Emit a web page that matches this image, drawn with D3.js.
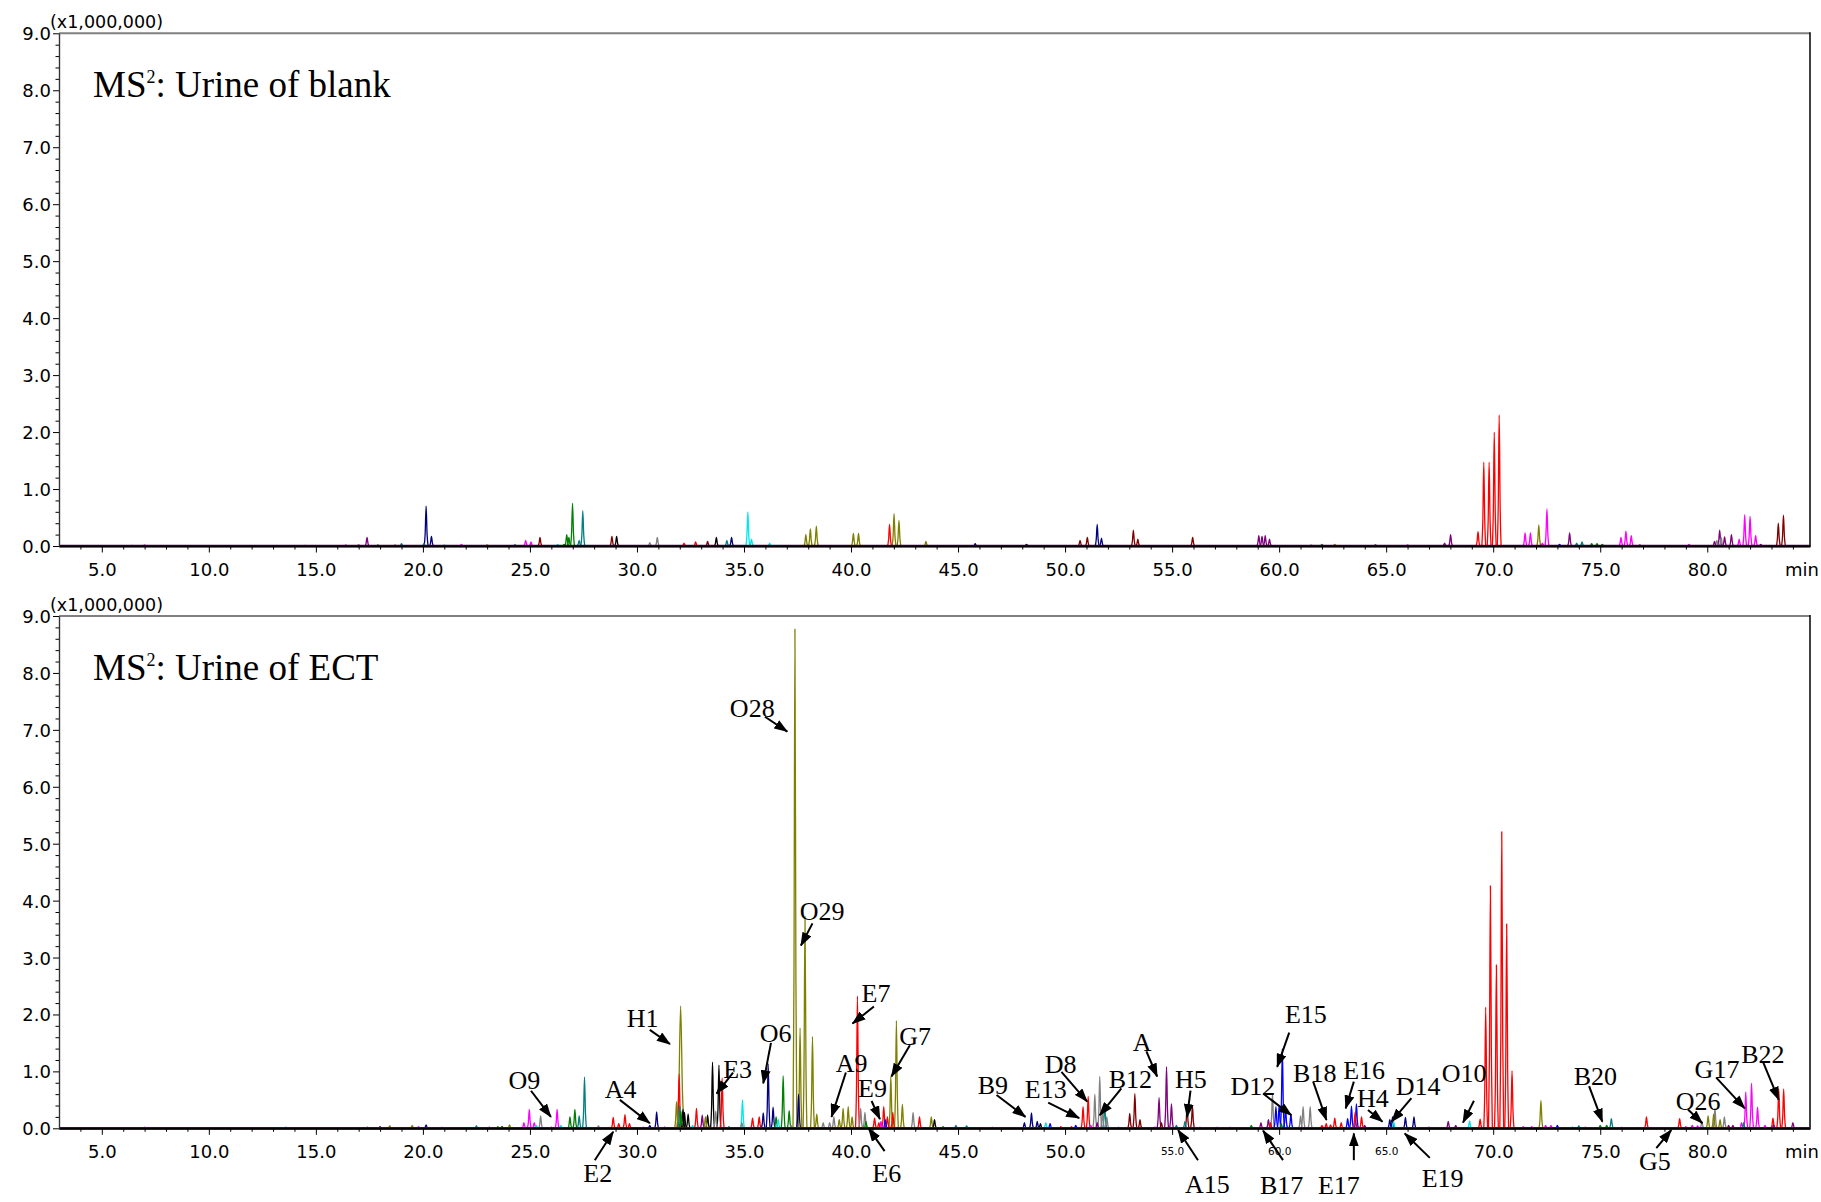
<!DOCTYPE html>
<html><head><meta charset="utf-8">
<script src="https://cdn.jsdelivr.net/npm/d3@7"></script>
<style>body{margin:0;background:#fff}svg{display:block}</style>
</head><body>
<svg id="c" width="1821" height="1202"></svg>
<script>
// ---------------- data ----------------
const xMajorTicks = [5,10,15,20,25,30,35,40,45,50,55,60,65,70,75,80];
const yMajorTicks = [0,1,2,3,4,5,6,7,8,9];
const bottomSmallTickLabels = [55,60,65];
const yUnitLabel = "(x1,000,000)";
const xUnitLabel = "min";
const panelTitles = ["Urine of blank", "Urine of ECT"];

const palette = {
  red:"#ff0000", olive:"#808000", navy:"#000080", blue:"#0000ff", green:"#008000",
  teal:"#008080", magenta:"#ff00ff", purple:"#800080", maroon:"#800000",
  gray:"#808080", black:"#000000", cyan:"#00e8e8"
};

// [retention time (min), intensity (x1,000,000), colour, optional half-width]
const blankPeaks = [
 [6.4,0.01,"green"],[7.0,0.02,"magenta"],[14.5,0.01,"magenta"],[16.4,0.02,"magenta"],[17.0,0.02,"purple"],
 [17.39,0.15,"purple"],[17.9,0.02,"green"],[18.7,0.02,"olive"],[19.0,0.04,"teal"],[20.05,0.04,"teal"],
 [20.15,0.70,"navy"],[20.4,0.17,"navy"],[21.0,0.02,"cyan"],[21.8,0.03,"magenta"],[23.0,0.02,"olive"],
 [24.3,0.02,"navy"],[24.8,0.10,"magenta"],[25.05,0.07,"magenta"],[25.47,0.15,"maroon"],[26.3,0.03,"cyan"],
 [26.6,0.03,"green"],[26.72,0.20,"green"],[26.82,0.15,"green"],[26.99,0.75,"green"],[27.3,0.10,"teal"],
 [27.47,0.62,"teal"],[28.83,0.17,"maroon"],[29.05,0.17,"black"],[30.6,0.06,"gray"],[30.95,0.15,"gray"],
 [32.2,0.05,"red"],[32.74,0.07,"red"],[33.3,0.08,"maroon"],[33.71,0.15,"black"],[34.2,0.10,"teal"],
 [34.42,0.15,"navy"],[35.18,0.60,"cyan"],[35.35,0.12,"cyan"],[36.2,0.05,"cyan"],[37.89,0.20,"olive"],
 [38.1,0.30,"olive"],[38.38,0.35,"olive"],[40.11,0.22,"olive"],[40.35,0.22,"olive"],[41.8,0.38,"red"],
 [42.01,0.57,"olive"],[42.24,0.45,"olive"],[43.5,0.08,"olive"],[45.8,0.04,"navy"],[48.2,0.03,"black"],
 [50.7,0.10,"maroon"],[51.04,0.15,"maroon"],[51.5,0.38,"navy"],[51.7,0.14,"navy"],[53.19,0.28,"maroon"],
 [53.4,0.12,"maroon"],[55.96,0.15,"maroon"],[59.05,0.18,"purple"],[59.2,0.17,"purple"],[59.35,0.18,"purple"],
 [59.55,0.12,"purple"],[61.5,0.02,"gray"],[62.0,0.03,"green"],[62.6,0.03,"olive"],[64.5,0.02,"black"],
 [66.0,0.02,"magenta"],[67.73,0.05,"purple"],[68.01,0.20,"purple"],[69.29,0.25,"red"],[69.56,1.47,"red"],
 [69.81,1.47,"red"],[70.05,2.00,"red"],[70.28,2.30,"red"],[71.49,0.23,"magenta"],[71.74,0.23,"magenta"],
 [72.13,0.37,"olive"],[72.3,0.05,"magenta"],[72.51,0.65,"magenta"],[73.1,0.03,"blue"],[73.57,0.23,"purple"],
 [73.9,0.05,"teal"],[74.15,0.07,"teal"],[74.6,0.04,"green"],[74.85,0.04,"green"],[75.1,0.03,"green"],
 [75.97,0.15,"magenta"],[76.2,0.26,"magenta"],[76.45,0.18,"magenta"],[76.85,0.02,"purple"],[79.15,0.03,"magenta"],
 [80.34,0.08,"purple"],[80.45,0.10,"gray"],[80.58,0.28,"purple"],[80.65,0.15,"gray"],[80.81,0.16,"purple"],
 [81.13,0.20,"purple"],[81.49,0.12,"magenta"],[81.75,0.55,"magenta"],[82.0,0.52,"magenta"],[82.26,0.18,"magenta"],
 [82.5,0.03,"purple"],[83.32,0.40,"maroon"],[83.56,0.54,"maroon"]
];

const ectPeaks = [
 [6.3,0.01,"green"],[7.0,0.02,"magenta"],[13.6,0.02,"teal"],[17.4,0.02,"purple"],[18.0,0.03,"navy"],
 [18.45,0.04,"olive"],[19.5,0.05,"olive"],[19.8,0.03,"magenta"],[20.15,0.06,"navy"],[20.9,0.02,"gray"],
 [22.5,0.04,"teal"],[23.1,0.02,"maroon"],[23.5,0.03,"green"],[23.7,0.03,"black"],[24.05,0.06,"olive"],
 [24.72,0.10,"magenta"],[24.97,0.33,"magenta"],[25.2,0.10,"magenta"],[25.3,0.05,"cyan"],[25.5,0.22,"gray"],
 [26.0,0.02,"red"],[26.27,0.33,"magenta"],[26.45,0.05,"cyan"],[26.87,0.20,"green"],[27.1,0.33,"green"],
 [27.3,0.22,"teal"],[27.55,0.90,"teal"],[28.2,0.04,"gray"],[28.89,0.19,"red"],[29.15,0.08,"red"],
 [29.44,0.24,"red"],[29.65,0.08,"red"],[30.3,0.02,"magenta"],[30.6,0.05,"navy"],[30.92,0.29,"navy"],
 [31.3,0.02,"navy"],[31.85,0.47,"olive"],[31.97,0.95,"red"],[32.04,2.15,"olive",0.17],[32.0,0.40,"teal"],
 [32.05,0.30,"green"],[32.15,0.33,"black"],[32.22,0.28,"black"],[32.39,0.25,"black"],[32.6,0.05,"cyan"],
 [32.78,0.35,"red"],[33.05,0.23,"purple"],[33.2,0.20,"olive"],[33.3,0.23,"black"],[33.53,1.16,"black"],
 [33.68,0.30,"gray"],[33.83,1.11,"black"],[33.98,0.88,"red"],[34.3,0.03,"teal"],[34.9,0.10,"gray"],
 [34.93,0.50,"cyan"],[35.4,0.18,"red"],[35.71,0.20,"red"],[35.9,0.27,"navy"],[36.13,1.13,"navy"],
 [36.36,0.37,"navy"],[36.5,0.20,"green"],[36.6,0.15,"cyan"],[36.83,0.92,"green"],[37.11,0.31,"green"],
 [37.2,0.05,"gray"],[37.38,8.77,"olive"],[37.55,0.60,"navy"],[37.62,1.76,"olive"],[37.85,3.72,"olive"],
 [38.2,1.61,"olive"],[38.4,0.25,"olive"],[38.7,0.10,"gray"],[39.0,0.10,"gray"],[39.2,0.20,"gray"],
 [39.45,0.15,"olive"],[39.63,0.35,"olive"],[39.87,0.38,"olive"],[40.05,0.20,"olive"],[40.3,2.32,"red"],
 [40.45,0.35,"gray"],[40.65,0.28,"gray"],[40.7,0.12,"green"],[41.1,0.18,"red"],[41.3,0.10,"red"],
 [41.4,0.12,"magenta"],[41.53,0.38,"red"],[41.6,0.15,"blue"],[41.7,0.20,"red"],[41.86,0.91,"olive"],
 [41.95,0.28,"red"],[42.12,1.89,"olive"],[42.4,0.42,"olive"],[42.9,0.28,"gray"],[43.2,0.20,"red"],
 [43.75,0.20,"olive"],[43.9,0.15,"black"],[44.3,0.03,"green"],[44.9,0.05,"teal"],[45.4,0.04,"teal"],
 [46.6,0.02,"gray"],[48.1,0.10,"navy"],[48.43,0.27,"navy"],[48.7,0.12,"navy"],[48.85,0.08,"black"],
 [49.1,0.10,"cyan"],[49.3,0.08,"blue"],[49.8,0.03,"red"],[50.3,0.03,"red"],[50.5,0.05,"blue"],
 [50.84,0.38,"red"],[51.08,0.56,"red"],[51.2,0.05,"magenta"],[51.39,0.60,"gray"],[51.5,0.10,"purple"],
 [51.62,0.91,"gray"],[51.75,0.30,"gray"],[51.85,0.44,"teal"],[51.95,0.20,"gray"],[52.5,0.02,"gray"],
 [53.02,0.26,"maroon"],[53.26,0.61,"maroon"],[53.5,0.15,"maroon"],[54.2,0.02,"purple"],[54.39,0.54,"purple"],
 [54.5,0.10,"maroon"],[54.74,1.08,"purple"],[54.97,0.43,"purple"],[55.2,0.05,"teal"],[55.6,0.12,"teal"],
 [55.7,0.38,"maroon"],[55.95,0.39,"maroon"],[56.3,0.02,"gray"],[57.1,0.02,"gray"],[57.7,0.02,"gray"],
 [58.7,0.05,"green"],[59.15,0.10,"purple"],[59.5,0.15,"purple"],[59.6,0.10,"red"],[59.69,0.61,"gray"],
 [59.85,0.38,"blue"],[60.0,0.40,"blue"],[60.1,0.08,"green"],[60.15,1.40,"blue"],[60.3,0.35,"blue"],
 [60.55,0.25,"blue"],[61.0,0.22,"gray"],[61.12,0.38,"gray"],[61.45,0.38,"gray"],[62.0,0.05,"red"],
 [62.2,0.08,"red"],[62.4,0.06,"red"],[62.6,0.18,"red"],[62.9,0.10,"red"],[63.2,0.17,"blue"],
 [63.38,0.39,"blue"],[63.55,0.28,"red"],[63.61,0.43,"blue"],[63.85,0.20,"red"],[64.0,0.05,"purple"],
 [65.17,0.15,"navy"],[65.3,0.20,"navy"],[65.35,0.12,"cyan"],[65.9,0.19,"navy"],[66.3,0.20,"navy"],
 [67.0,0.02,"purple"],[67.9,0.12,"purple"],[68.25,0.05,"purple"],[68.9,0.13,"cyan"],[69.39,0.16,"red"],
 [69.65,2.13,"red"],[69.87,4.26,"red"],[70.15,2.87,"red"],[70.40,5.21,"red"],[70.63,3.59,"red"],
 [70.88,1.01,"red"],[71.4,0.03,"magenta"],[71.8,0.03,"magenta"],[72.23,0.49,"olive"],[72.45,0.05,"magenta"],
 [72.7,0.05,"magenta"],[73.0,0.05,"blue"],[73.7,0.02,"green"],[74.0,0.04,"teal"],[74.3,0.02,"red"],
 [75.0,0.05,"green"],[75.3,0.05,"green"],[75.52,0.17,"teal"],[76.0,0.02,"gray"],[76.5,0.01,"purple"],
 [77.16,0.20,"red"],[78.71,0.17,"red"],[79.0,0.03,"magenta"],[79.3,0.05,"magenta"],[79.55,0.04,"magenta"],
 [79.75,0.12,"gray"],[80.04,0.22,"olive"],[80.3,0.25,"olive"],[80.36,0.35,"gray"],[80.6,0.15,"olive"],
 [80.8,0.20,"gray"],[81.0,0.05,"purple"],[81.2,0.05,"purple"],[81.6,0.10,"magenta"],[81.7,0.10,"teal"],
 [81.8,0.64,"magenta"],[82.07,0.79,"magenta"],[82.35,0.37,"magenta"],[82.7,0.05,"magenta"],[83.07,0.18,"red"],
 [83.1,0.06,"purple"],[83.34,0.69,"red"],[83.57,0.69,"red"],[84.0,0.10,"purple"]
];

// [label, text time, text intensity (baseline), anchor, arrow-from time, from intensity, arrow-to time, to intensity]
const ectAnnotations = [
 ["O9",24.0,0.69,"start",25.05,0.66,25.98,0.20],
 ["E2",28.17,-0.94,"middle",28.03,-0.56,28.89,-0.06],
 ["A4",28.5,0.53,"start",29.2,0.50,30.6,0.09],
 ["H1",29.52,1.785,"start",30.6,1.73,31.54,1.48],
 ["E3",34.03,0.88,"start",34.49,0.98,33.72,0.61],
 ["O6",35.74,1.52,"start",36.26,1.50,35.9,0.79],
 ["O28",34.34,7.22,"start",35.98,7.23,37.02,6.97],
 ["O29",37.61,3.66,"start",38.2,3.6,37.66,3.21],
 ["E7",40.49,2.22,"start",41.07,2.14,40.07,1.84],
 ["A9",39.29,0.99,"start",39.76,0.98,39.09,0.20],
 ["E9",40.33,0.545,"start",40.96,0.48,41.35,0.16],
 ["G7",42.25,1.46,"start",42.75,1.46,41.89,0.91],
 ["E6",41.67,-0.94,"middle",41.57,-0.40,40.82,0.0],
 ["B9",45.92,0.60,"start",46.8,0.585,48.15,0.20],
 ["E13",48.12,0.53,"start",49.21,0.45,50.66,0.18],
 ["D8",49.05,0.98,"start",49.83,0.99,51.03,0.47],
 ["B12",52.04,0.70,"start",52.63,0.70,51.62,0.23],
 ["A",53.16,1.35,"start",53.80,1.35,54.30,0.91],
 ["H5",55.13,0.70,"start",55.86,0.66,55.70,0.20],
 ["A15",56.65,-1.14,"middle",56.21,-0.56,55.28,-0.03],
 ["D12",57.73,0.585,"start",59.25,0.61,60.57,0.23],
 ["B17",60.12,-1.15,"middle",60.18,-0.56,59.25,-0.04],
 ["E15",60.27,1.845,"start",60.47,1.68,59.91,1.08],
 ["B18",60.65,0.82,"start",61.59,0.82,62.21,0.146],
 ["E16",62.99,0.86,"start",63.49,0.82,63.11,0.35],
 ["E17",62.79,-1.15,"middle",63.49,-0.56,63.49,-0.09],
 ["H4",63.64,0.38,"start",64.15,0.32,64.83,0.116],
 ["D14",65.45,0.585,"start",66.18,0.53,65.25,0.116],
 ["E19",67.64,-1.03,"middle",67.04,-0.52,65.87,-0.09],
 ["O10",67.6,0.82,"start",69.1,0.485,68.59,0.10],
 ["B20",73.76,0.76,"start",74.48,0.74,75.1,0.116],
 ["O26",78.53,0.32,"start",79.1,0.33,79.77,0.09],
 ["G5",77.55,-0.73,"middle",77.62,-0.35,78.32,-0.03],
 ["G17",79.41,0.88,"start",80.42,0.89,81.75,0.35],
 ["B22",81.59,1.15,"start",82.6,1.17,83.34,0.50]
];

// ---------------- drawing ----------------
const svg = d3.select("#c");
const W = 1821, H = 1202;
svg.append("rect").attr("width",W).attr("height",H).attr("fill","#fff");

const defs = svg.append("defs");
defs.append("marker").attr("id","ah").attr("viewBox","0 0 14 10")
  .attr("refX",13).attr("refY",5).attr("markerWidth",14).attr("markerHeight",10)
  .attr("markerUnits","userSpaceOnUse").attr("orient","auto")
  .append("path").attr("d","M0,0 L14,5 L0,10 Z").attr("fill","#000");

const x = d3.scaleLinear().domain([3, 84.8]).range([59, 1810]);

const panels = [
  {peaks: blankPeaks, top: 33.3, bottom: 546, title: panelTitles[0], ann: [], small: []},
  {peaks: ectPeaks, top: 616, bottom: 1128.3, title: panelTitles[1], ann: ectAnnotations, small: bottomSmallTickLabels}
];

const sansFont = "'DejaVu Sans', Verdana, sans-serif";
const serifFont = "'Liberation Serif', 'Times New Roman', serif";

panels.forEach(p => {
  const y = d3.scaleLinear().domain([0, 9]).range([p.bottom, p.top]);
  const g = svg.append("g");

  // frame: top (gray) and right (black)
  g.append("line").attr("x1",x.range()[0]).attr("x2",x.range()[1])
    .attr("y1",y(9)).attr("y2",y(9)).attr("stroke","#808080").attr("stroke-width",2);
  g.append("line").attr("x1",x.range()[1]).attr("x2",x.range()[1])
    .attr("y1",y(9)-1).attr("y2",y(0)).attr("stroke","#000").attr("stroke-width",1.5);

  // peaks
  const line = d3.line().x(d => x(d[0])).y(d => y(d[1])).curve(d3.curveMonotoneX);
  const sorted = p.peaks.slice().sort((a,b) => b[1]-a[1]);
  g.append("g").selectAll("path").data(sorted).join("path")
    .attr("d", d => {
      const w = d[3] || 0.09, h = d[1];
      return line([[d[0]-w,0],[d[0]-w*0.5,h*0.3],[d[0],h],[d[0]+w*0.5,h*0.3],[d[0]+w,0]]);
    })
    .attr("fill","none").attr("stroke", d => palette[d[2]]).attr("stroke-width",1.3)
    .attr("stroke-linejoin","round");

  // baseline trace
  g.append("line").attr("x1",x.range()[0]).attr("x2",x.range()[1])
    .attr("y1",y(0)).attr("y2",y(0)).attr("stroke","#3a0a3a").attr("stroke-width",2.4);

  // x axis: minor then major
  const minorX = d3.range(4, 85, 1).filter(v => v % 5 !== 0);
  const axMinorX = g.append("g").attr("transform",`translate(0,${y(0)})`)
    .call(d3.axisBottom(x).tickValues(minorX).tickSize(3.5).tickSizeOuter(0).tickFormat(""));
  const axX = g.append("g").attr("transform",`translate(0,${y(0)})`)
    .call(d3.axisBottom(x).tickValues(xMajorTicks).tickSize(6.5).tickSizeOuter(0).tickFormat(d3.format(".1f")));
  [axMinorX, axX].forEach(a => {
    a.select(".domain").attr("stroke","#000").attr("stroke-width",1.5);
    a.selectAll(".tick line").attr("stroke","#000").attr("stroke-width",1);
  });
  axX.selectAll(".tick text")
    .attr("y", d => p.small.includes(d) ? 27 : 30).attr("dy", null)
    .attr("font-family", sansFont).attr("font-size", d => p.small.includes(d) ? 10.5 : 18)
    .attr("fill","#000");
  g.append("text").attr("x", x.range()[1]-25).attr("y", y(0)+30)
    .attr("font-family", sansFont).attr("font-size",18).text(xUnitLabel);

  // y axis
  const minorY = d3.range(0, 9.01, 0.2).filter(v => Math.abs(v - Math.round(v)) > 0.01);
  const axMinorY = g.append("g").attr("transform",`translate(${x.range()[0]},0)`)
    .call(d3.axisLeft(y).tickValues(minorY).tickSize(3.5).tickSizeOuter(0).tickFormat(""));
  const axY = g.append("g").attr("transform",`translate(${x.range()[0]},0)`)
    .call(d3.axisLeft(y).tickValues(yMajorTicks).tickSize(6).tickSizeOuter(0).tickFormat(d3.format(".1f")));
  [axMinorY, axY].forEach(a => {
    a.select(".domain").attr("stroke","#333").attr("stroke-width",1.2);
    a.selectAll(".tick line").attr("stroke","#000").attr("stroke-width",1);
  });
  axY.selectAll(".tick text").attr("x",-8).attr("dy","0.36em")
    .attr("font-family", sansFont).attr("font-size",18).attr("fill","#000");
  g.append("text").attr("x", 50).attr("y", y(9)-5)
    .attr("font-family", sansFont).attr("font-size",17.5).text(yUnitLabel);

  // title
  const t = g.append("text").attr("x", 93).attr("y", y(9)+63.5)
    .attr("font-family", serifFont).attr("font-size",37).attr("fill","#000");
  t.append("tspan").text("MS");
  t.append("tspan").attr("font-size",18).attr("dy",-13.5).text("2");
  t.append("tspan").attr("dy",13.5).text(": " + p.title);

  // annotations
  const ag = g.append("g");
  p.ann.forEach(a => {
    ag.append("text").attr("x", x(a[1])).attr("y", y(a[2])).attr("text-anchor", a[3])
      .attr("font-family", serifFont).attr("font-size",26).attr("fill","#000").text(a[0]);
    ag.append("line").attr("x1", x(a[4])).attr("y1", y(a[5])).attr("x2", x(a[6])).attr("y2", y(a[7]))
      .attr("stroke","#000").attr("stroke-width",2).attr("marker-end","url(#ah)");
  });
});
</script>
</body></html>
